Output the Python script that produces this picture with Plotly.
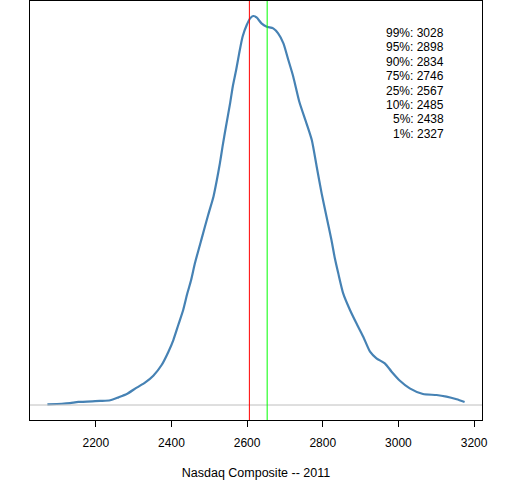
import plotly.graph_objects as go

# density estimate of Nasdaq Composite 2011 closes
price = [2072, 2110, 2132, 2154, 2211, 2238, 2260, 2282, 2308, 2330, 2352, 2374,
         2392, 2405, 2418, 2431, 2442, 2452, 2462, 2480, 2497, 2511, 2520, 2528,
         2535, 2544, 2555, 2562, 2571, 2579, 2588, 2599, 2608, 2616, 2625, 2638,
         2652, 2669, 2682, 2696, 2709, 2722, 2738, 2757, 2771, 2784, 2797, 2810,
         2823, 2832, 2841, 2854, 2872, 2889, 2907, 2925, 2942, 2964, 2982, 3004,
         3030, 3065, 3101, 3127, 3154, 3175]
density = [0.005, 0.009, 0.014, 0.022, 0.029, 0.034, 0.055, 0.079, 0.125, 0.161,
           0.211, 0.288, 0.384, 0.468, 0.576, 0.684, 0.804, 0.900, 1.020, 1.200,
           1.368, 1.500, 1.620, 1.740, 1.860, 2.004, 2.172, 2.292, 2.412, 2.532,
           2.652, 2.736, 2.784, 2.801, 2.791, 2.748, 2.724, 2.712, 2.676, 2.604,
           2.484, 2.364, 2.184, 2.028, 1.908, 1.716, 1.524, 1.356, 1.188, 1.056,
           0.948, 0.804, 0.684, 0.588, 0.492, 0.384, 0.336, 0.300, 0.240, 0.175,
           0.120, 0.079, 0.072, 0.060, 0.041, 0.022]
density = [d * 1e-3 for d in density]

median_val = 2606
mean_val = 2653

quant_labels = ["99%", "95%", "90%", "75%", "25%", "10%", "5%", "1%"]
quant_values = [3028, 2898, 2834, 2746, 2567, 2485, 2438, 2327]

xticks = [2200, 2400, 2600, 2800, 3000, 3200]

fig = go.Figure()
fig.add_trace(go.Scatter(
    x=price, y=density,
    mode='lines',
    line=dict(color='#4682B4', width=2.2, shape='spline', smoothing=0.6),
    showlegend=False,
    hoverinfo='skip'
))

fig.add_hline(y=0, line=dict(color='#BEBEBE', width=1))
fig.add_vline(x=median_val, line=dict(color='#FF0000', width=1))
fig.add_vline(x=mean_val, line=dict(color='#00FF00', width=1))

# quantile block, right-aligned near the top right corner
for i, (lab, val) in enumerate(zip(quant_labels, quant_values)):
    fig.add_annotation(
        x=(446 - 30) / 452, xref='paper', xanchor='right',
        y=1, yref='paper', yanchor='middle',
        yshift=-(32 + 14.4 * i),
        text=f"{lab}: {val}",
        showarrow=False,
        font=dict(size=12, color='black'),
        align='right'
    )

fig.update_layout(
    width=512, height=480,
    margin=dict(l=30, r=30, t=1, b=60),
    paper_bgcolor='white', plot_bgcolor='white',
    font=dict(family='Liberation Sans, Arial, sans-serif', size=12, color='black'),
    xaxis=dict(
        range=[2026, 3221],
        tickvals=xticks,
        ticks='outside', ticklen=6, tickcolor='black', tickwidth=1,
        ticklabelstandoff=6,
        showline=True, linecolor='black', linewidth=1, mirror=True,
        showgrid=False, zeroline=False,
        title=dict(text='Nasdaq Composite -- 2011', standoff=18,
                   font=dict(size=12.5))
    ),
    yaxis=dict(
        range=[-0.108e-3, 2.909e-3],
        showticklabels=False, ticks='',
        showline=True, linecolor='black', linewidth=1, mirror=True,
        showgrid=False, zeroline=False
    )
)

fig.write_html("out.html", config={'displayModeBar': False},
               post_script="document.body.style.margin='0';")
